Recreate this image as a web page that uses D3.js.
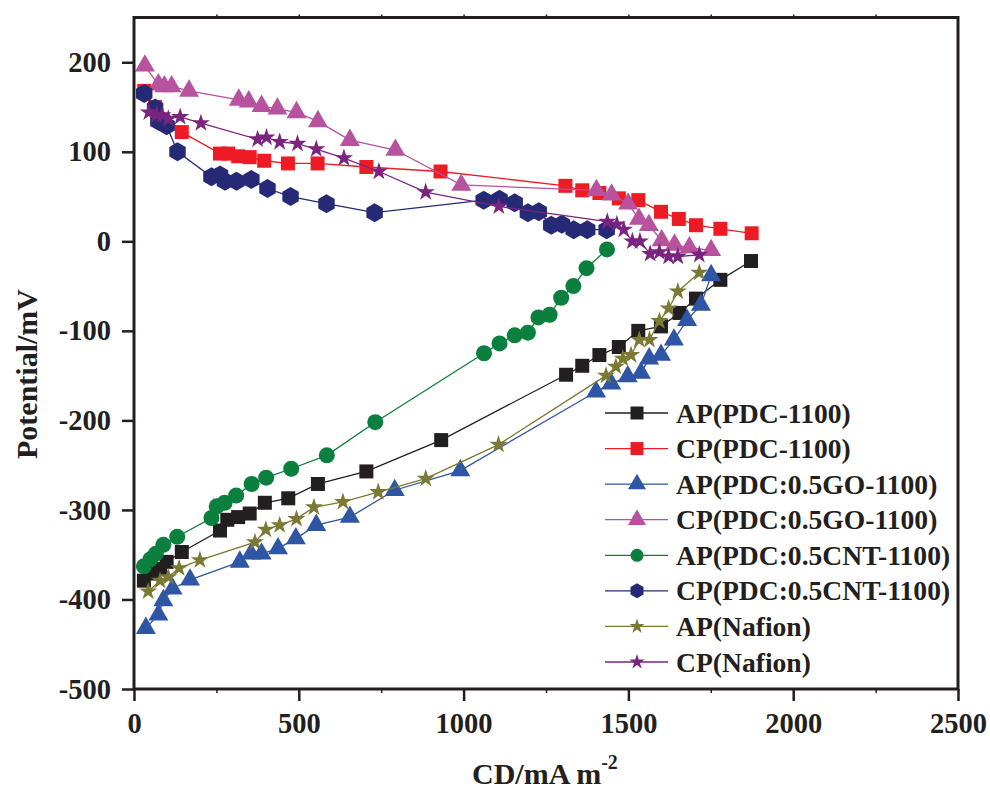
<!DOCTYPE html>
<html>
<head>
<meta charset="utf-8">
<script src="https://cdn.jsdelivr.net/npm/d3@7"></script>
<style>
  html, body { margin: 0; padding: 0; background: #fff; }
  svg { display: block; }
  text { font-family: "Liberation Serif", "Times New Roman", serif; font-weight: bold; fill: #231f20; }
</style>
</head>
<body>
<svg id="chart" width="990" height="803"></svg>
<script>
// Polarization data: current density (mA m^-2) vs electrode potential (mV)
const seriesNames = [
  "AP(PDC-1100)", "CP(PDC-1100)",
  "AP(PDC:0.5GO-1100)", "CP(PDC:0.5GO-1100)",
  "AP(PDC:0.5CNT-1100)", "CP(PDC:0.5CNT-1100)",
  "AP(Nafion)", "CP(Nafion)"
];

const apPdc = [[30,-379],[58,-371],[79,-366],[99,-358],[145,-347],[261,-323],[283,-311],[316,-308],[351,-304],[397,-292],[468,-287],[558,-271],[705,-257],[932,-222],[1311,-149],[1360,-139],[1412,-127],[1471,-118],[1530,-100],[1599,-95],[1655,-80],[1705,-64],[1779,-43],[1872,-22]];
const cpPdc = [[31,168],[64,150],[145,122],[261,98],[286,98],[316,95],[351,94],[395,90],[467,87],[557,87],[705,83],[930,78],[1309,62],[1360,57],[1412,54],[1471,48],[1530,46],[1599,33],[1653,25],[1705,18],[1779,14],[1874,9]];
const apGo = [[36,-432],[74,-417],[89,-401],[117,-388],[170,-378],[321,-358],[355,-349],[387,-349],[437,-343],[491,-332],[553,-317],[655,-308],[791,-278],[990,-256],[1402,-168],[1448,-159],[1498,-151],[1538,-147],[1563,-131],[1599,-127],[1638,-110],[1678,-88],[1720,-71],[1751,-38]];
const cpGo = [[33,196],[74,175],[92,173],[114,173],[167,168],[318,158],[348,156],[387,151],[435,148],[493,144],[558,134],[655,113],[793,102],[993,63],[1403,57],[1449,52],[1499,42],[1532,25],[1562,18],[1601,1],[1640,-4],[1685,-7],[1751,-10]];
const apCnt = [[30,-363],[50,-355],[66,-349],[89,-339],[131,-330],[235,-309],[251,-296],[275,-292],[310,-284],[357,-271],[401,-264],[477,-254],[585,-239],[732,-202],[1062,-125],[1109,-114],[1155,-105],[1195,-102],[1227,-85],[1261,-82],[1296,-63],[1333,-50],[1373,-30],[1435,-9]];
const cpCnt = [[31,165],[64,149],[74,134],[99,129],[132,100],[235,72],[261,74],[276,67],[311,67],[356,69],[405,59],[475,50],[584,42],[730,32],[1061,46],[1109,47],[1155,43],[1195,32],[1228,33],[1266,18],[1298,19],[1334,13],[1375,13],[1434,13]];
const apNafion = [[43,-391],[79,-379],[104,-375],[137,-365],[200,-356],[367,-336],[400,-322],[442,-317],[493,-310],[546,-297],[634,-291],[741,-280],[885,-265],[1106,-227],[1432,-150],[1462,-140],[1483,-131],[1508,-127],[1533,-110],[1564,-110],[1594,-89],[1622,-75],[1650,-56],[1715,-35]];
const cpNafion = [[45,144],[69,141],[86,141],[104,137],[140,139],[203,132],[375,114],[402,116],[442,111],[496,109],[553,103],[637,93],[743,78],[885,55],[1107,39],[1436,22],[1465,19],[1486,13],[1512,0],[1535,0],[1566,-14],[1594,-12],[1622,-17],[1650,-17],[1715,-15]];

const xTickValues = [0, 500, 1000, 1500, 2000, 2500];
const yTickValues = [-500, -400, -300, -200, -100, 0, 100, 200];
const xTickLabels = ["0", "500", "1000", "1500", "2000", "2500"];
const yTickLabels = ["-500", "-400", "-300", "-200", "-100", "0", "100", "200"];

const seriesData = [apPdc, cpPdc, apGo, cpGo, apCnt, cpCnt, apNafion, cpNafion];
const colors = ["#231f20", "#ed1c24", "#2f55a5", "#b6529e", "#0b7f3e", "#262a76", "#7b7a35", "#7a2480"];
const shapes = ["square", "square", "triangle", "triangle", "circle", "hexagon", "star", "star"];

const svg = d3.select("#chart");
const x = d3.scaleLinear().domain([0, 2500]).range([134, 958]);
const y = d3.scaleLinear().domain([-500, 250]).range([689, 17.5]);

// marker geometry (size in px, roughly the glyph's width)
function markerPath(shape, s) {
  if (shape === "square") return d3.symbol(d3.symbolSquare, s * s)();
  if (shape === "circle") return d3.symbol(d3.symbolCircle, Math.PI * (s / 2) * (s / 2))();
  if (shape === "triangle") return d3.symbol(d3.symbolTriangle, Math.sqrt(3) / 4 * s * s)();
  if (shape === "star") { const r = s / 2; return d3.symbol(d3.symbolStar, r * r / 0.8908130915292852)(); }
  if (shape === "hexagon") {
    const r = s / 2;
    const pts = d3.range(6).map(i => {
      const a = Math.PI / 3 * i - Math.PI / 2;
      return [r * Math.cos(a), r * Math.sin(a)];
    });
    return "M" + pts.map(p => p.join(",")).join("L") + "Z";
  }
}
const plotSize = { square: 14, circle: 16, triangle: 20, star: 19, hexagon: 19 };
const legendSize = { square: 13, circle: 13, triangle: 18, star: 16, hexagon: 15 };

// axes
const yAxis = d3.axisLeft(y).tickValues(yTickValues).tickSize(12).tickPadding(11)
  .tickFormat((d, i) => yTickLabels[i]);
const xAxis = d3.axisBottom(x).tickValues(xTickValues).tickSize(12).tickPadding(12)
  .tickFormat((d, i) => xTickLabels[i]);
const xMinor = d3.axisBottom(x).tickValues(d3.range(250, 2500, 500)).tickSize(4).tickFormat("");
const xTop = d3.axisTop(x).tickValues(d3.range(250, 2500, 250)).tickSize(3).tickFormat("");

const gy = svg.append("g").attr("transform", "translate(134,0)").call(yAxis);
const gx = svg.append("g").attr("transform", "translate(0,689)").call(xAxis);
const gxm = svg.append("g").attr("transform", "translate(0,689)").call(xMinor);
const gxt = svg.append("g").attr("transform", "translate(0,17.5)").call(xTop);
[gy, gx, gxm, gxt].forEach(g => {
  g.select(".domain").remove();
  g.selectAll(".tick line").attr("stroke", "#231f20").attr("stroke-width", 2.5);
  g.selectAll(".tick text").style("font-size", "28.5px").attr("fill", "#231f20")
    .style("font-family", "'Liberation Serif', serif").style("font-weight", "bold");
});
gxm.selectAll(".tick line").attr("stroke-width", 1.5);
gxt.selectAll(".tick line").attr("stroke-width", 1.5);

// series lines and markers
const line = d3.line().x(d => x(d[0])).y(d => y(d[1]));
seriesData.forEach((data, i) => {
  const g = svg.append("g");
  g.append("path").datum(data).attr("d", line)
    .attr("fill", "none").attr("stroke", colors[i]).attr("stroke-width", 1.3);
  g.selectAll("path.m").data(data).enter().append("path").attr("class", "m")
    .attr("d", markerPath(shapes[i], plotSize[shapes[i]]))
    .attr("transform", d => `translate(${x(d[0])},${y(d[1])})`)
    .attr("fill", colors[i]);
});

// frame
svg.append("rect").attr("x", x(0)).attr("y", y(250))
  .attr("width", x(2500) - x(0)).attr("height", y(-500) - y(250))
  .attr("fill", "none").attr("stroke", "#231f20").attr("stroke-width", 3);

// legend
const legendY = d3.scaleLinear().domain([0, 7]).range([413, 662]);
seriesNames.forEach((name, i) => {
  const ly = legendY(i);
  const g = svg.append("g");
  g.append("line").attr("x1", 605).attr("x2", 668).attr("y1", ly).attr("y2", ly)
    .attr("stroke", colors[i]).attr("stroke-width", 1.3);
  g.append("path").attr("d", markerPath(shapes[i], legendSize[shapes[i]]))
    .attr("transform", `translate(637,${ly})`).attr("fill", colors[i]);
  g.append("text").attr("x", 676).attr("y", ly + 9.5).style("font-size", "27.6px").text(name);
});

// axis titles
svg.append("text").attr("transform", "translate(37,374) rotate(-90)")
  .attr("text-anchor", "middle").style("font-size", "30px").text("Potential/mV");
const xt = svg.append("text").attr("x", 472).attr("y", 784).style("font-size", "30px");
xt.append("tspan").text("CD/mA m");
xt.append("tspan").attr("dy", -15).style("font-size", "20px").text("-2");
</script>
</body>
</html>
